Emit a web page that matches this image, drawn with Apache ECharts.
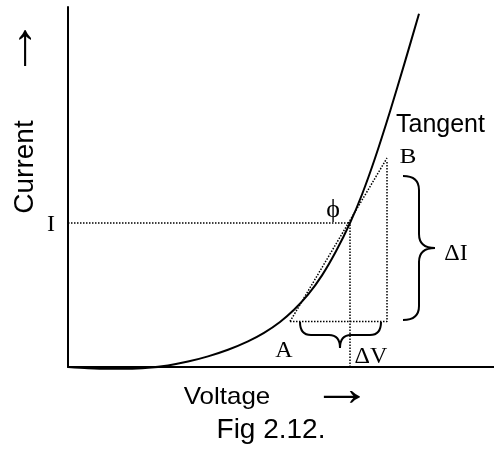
<!DOCTYPE html>
<html>
<head>
<meta charset="utf-8">
<script src="https://cdn.jsdelivr.net/npm/echarts@6/dist/echarts.min.js"></script>
<style>
html,body{margin:0;padding:0;background:#fff;}
#chart{width:494px;height:449px;}
</style>
</head>
<body>
<div id="chart"></div>
<script>
// ---- data (arbitrary units) ----
const curveVoltage = [0, 20, 40, 60, 80, 100, 120, 140, 160, 180, 196, 212, 226, 240, 254, 268, 282, 294, 307, 322, 337, 351];
const curveCurrent = [0, -1.2, -1.8, -1.8, -0.8, 1.6, 5.4, 10.6, 17.2, 25.6, 34.1, 45, 57.2, 72.3, 91.6, 115.7, 144, 172.5, 208.7, 255.5, 305.4, 353.3];

// operating point (V, I) on the curve
const opPoint = [282, 144];
// tangent end points A and B
const tangentA = [222, 45.5];
const tangentB = [319, 209];
// right side of the triangle (top of the vertical drop)
const triangleTopRight = [319, 205];

// braces: [x1, y1, x2, y2, tipX, tipY]
const braceDeltaI = [335, 191, 335, 47, 367, 119];
const braceDeltaV = [232, 45, 313, 45, 272, 19];

const axisRange = { xMax: 426, yMax: 360 };

// ---- build series ----
const curveData = curveVoltage.map((v, i) => [v, curveCurrent[i]]);
const dotted = { color: '#000', width: 1.5, type: [1.5, 1.5] };
function lineSeries(data, style, smooth) {
  return {
    type: 'line', data: data, showSymbol: false, symbol: 'none', silent: true,
    clip: false, smooth: smooth || false, lineStyle: style, animation: false
  };
}

function braceRender(params, api) {
  const p1 = api.coord([api.value(0), api.value(1)]);
  const p2 = api.coord([api.value(2), api.value(3)]);
  const t = api.coord([api.value(4), api.value(5)]);
  let d;
  if (Math.abs(p1[0] - p2[0]) < 1) {
    // vertical brace, pointing right
    const x0 = p1[0], xt = t[0], xs = (x0 + xt) / 2, ym = t[1];
    const y1 = Math.min(p1[1], p2[1]), y2 = Math.max(p1[1], p2[1]);
    const r = 14;
    d = 'M' + x0 + ',' + y1 + ' Q' + xs + ',' + y1 + ' ' + xs + ',' + (y1 + r) +
        ' L' + xs + ',' + (ym - r) + ' Q' + xs + ',' + ym + ' ' + xt + ',' + ym +
        ' Q' + xs + ',' + ym + ' ' + xs + ',' + (ym + r) +
        ' L' + xs + ',' + (y2 - r) + ' Q' + xs + ',' + y2 + ' ' + x0 + ',' + y2;
  } else {
    // horizontal brace, pointing down
    const y0 = p1[1], yt = t[1], ys = (y0 + yt) / 2, xm = t[0];
    const x1 = Math.min(p1[0], p2[0]), x2 = Math.max(p1[0], p2[0]);
    const r = 11;
    d = 'M' + x1 + ',' + y0 + ' Q' + x1 + ',' + ys + ' ' + (x1 + r) + ',' + ys +
        ' L' + (xm - r) + ',' + ys + ' Q' + xm + ',' + ys + ' ' + xm + ',' + yt +
        ' Q' + xm + ',' + ys + ' ' + (xm + r) + ',' + ys +
        ' L' + (x2 - r) + ',' + ys + ' Q' + x2 + ',' + ys + ' ' + x2 + ',' + y0;
  }
  return {
    type: 'path',
    shape: { pathData: d },
    style: { stroke: '#000', fill: null, lineWidth: 2 }
  };
}

function txt(text, x, y, size, family, opts) {
  opts = opts || {};
  return {
    type: 'text', x: x, y: y, rotation: opts.rotation || 0,
    scaleX: opts.scaleX || 1, scaleY: opts.scaleY || 1, silent: true,
    style: {
      text: text, fill: '#000', fontSize: size, fontFamily: family,
      fontWeight: opts.weight || 'normal',
      textAlign: opts.align || 'center', textVerticalAlign: 'middle'
    }
  };
}
const SANS = '"Liberation Sans", Arial, sans-serif';
const SERIF = '"Liberation Serif", "Times New Roman", serif';

const chart = echarts.init(document.getElementById('chart'), null, { renderer: 'canvas' });
chart.setOption({
  animation: false,
  backgroundColor: '#fff',
  grid: { left: 68, top: 7, right: 0, bottom: 82 },
  xAxis: {
    type: 'value', min: 0, max: axisRange.xMax,
    axisLine: { show: true, onZero: false, lineStyle: { color: '#000', width: 2 } },
    axisTick: { show: false }, axisLabel: { show: false }, splitLine: { show: false }
  },
  yAxis: {
    type: 'value', min: 0, max: axisRange.yMax,
    axisLine: { show: true, onZero: false, lineStyle: { color: '#000', width: 2 } },
    axisTick: { show: false }, axisLabel: { show: false }, splitLine: { show: false }
  },
  series: [
    lineSeries([[0, opPoint[1]], opPoint], dotted),
    lineSeries([[opPoint[0], 0], opPoint], dotted),
    lineSeries([tangentA, tangentB], dotted),
    lineSeries([tangentA, [triangleTopRight[0], tangentA[1]], triangleTopRight], dotted),
    lineSeries(curveData, { color: '#000', width: 2 }, 0.3),
    {
      type: 'custom', renderItem: braceRender, clip: false, silent: true,
      encode: { x: [0, 2, 4], y: [1, 3, 5] },
      data: [braceDeltaI, braceDeltaV]
    }
  ],
  graphic: [
    txt('Current', 25, 167, 28, SANS, { rotation: Math.PI / 2 }),
    txt('\u2191', 25, 47, 42, SANS, { scaleY: 1.45, scaleX: 1.2, weight: 'bold' }),
    txt('I', 51, 225, 24, SERIF),
    txt('\u03D5', 333, 210, 26, SERIF),
    txt('Tangent', 396, 125, 25, SANS, { align: 'left' }),
    txt('B', 408, 157, 22, SERIF, { scaleX: 1.15 }),
    txt('A', 284, 351, 24, SERIF),
    txt('\u0394I', 456, 254, 24, SERIF),
    txt('\u0394V', 371, 357, 24, SERIF),
    txt('Voltage', 227, 397, 24, SANS, { scaleX: 1.08 }),
    txt('\u2192', 342, 391, 42, SANS, { scaleX: 1.45, scaleY: 1.2, weight: 'bold' }),
    txt('Fig 2.12.', 271, 430, 28, SANS)
  ]
});
</script>
</body>
</html>
